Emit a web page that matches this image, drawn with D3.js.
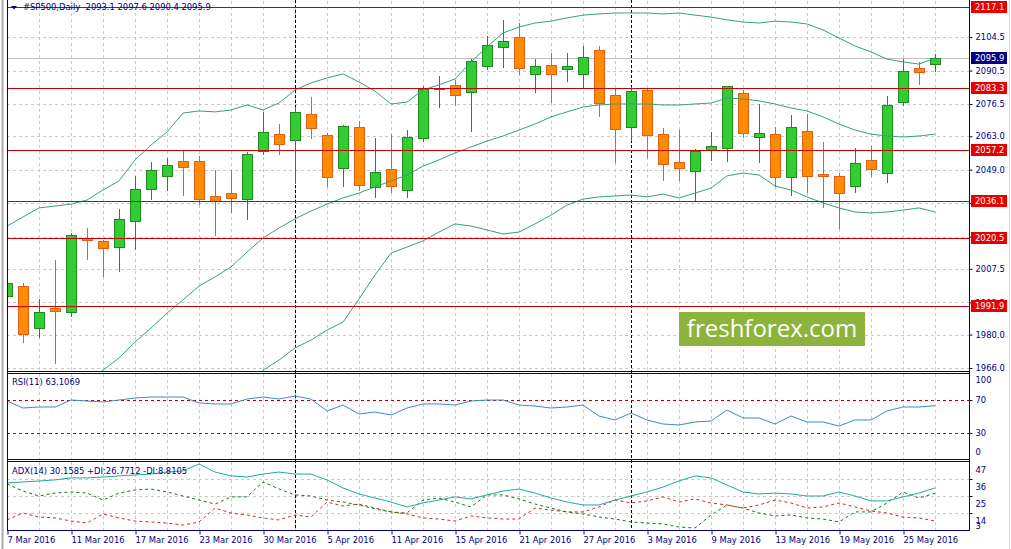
<!DOCTYPE html>
<html><head><meta charset="utf-8">
<script src="https://cdn.jsdelivr.net/npm/d3@7"></script>
<style>
body{margin:0;background:#fff;}
svg{display:block;}
text{font-family:"DejaVu Sans",sans-serif;}
</style>
</head><body>
<svg id="c" width="1011" height="549"></svg>
<script>
// ---------------- DATA ----------------
const dates = ["7 Mar 2016","8 Mar 2016","9 Mar 2016","10 Mar 2016","11 Mar 2016","14 Mar 2016","15 Mar 2016","16 Mar 2016","17 Mar 2016","18 Mar 2016",
"21 Mar 2016","22 Mar 2016","23 Mar 2016","24 Mar 2016","28 Mar 2016","29 Mar 2016","30 Mar 2016","31 Mar 2016","1 Apr 2016","4 Apr 2016",
"5 Apr 2016","6 Apr 2016","7 Apr 2016","8 Apr 2016","11 Apr 2016","12 Apr 2016","13 Apr 2016","14 Apr 2016","15 Apr 2016","18 Apr 2016",
"19 Apr 2016","20 Apr 2016","21 Apr 2016","22 Apr 2016","25 Apr 2016","26 Apr 2016","27 Apr 2016","28 Apr 2016","29 Apr 2016","2 May 2016",
"3 May 2016","4 May 2016","5 May 2016","6 May 2016","9 May 2016","10 May 2016","11 May 2016","12 May 2016","13 May 2016","16 May 2016",
"17 May 2016","18 May 2016","19 May 2016","20 May 2016","23 May 2016","24 May 2016","25 May 2016","26 May 2016","27 May 2016"];

const open = [1996.1,2000.3,1982.7,1991.1,1989.4,2020.4,2019.1,2016.6,2027.5,2040.9,
2046.4,2052.6,2052.6,2038.0,2039.2,2036.7,2056.8,2063.9,2061.4,2072.3,
2063.5,2049.7,2066.9,2041.8,2049.3,2040.5,2062.3,2082.6,2084.5,2081.5,
2092.4,2100.4,2104.5,2089.1,2092.8,2091.1,2089.1,2099.1,2080.3,2066.9,
2082.4,2063.9,2052.2,2048.4,2057.2,2058.1,2081.1,2062.7,2063.9,2045.9,
2065.2,2047.2,2046.4,2042.2,2053.1,2047.6,2077.3,2091.6,2093.1];
const high = [2006.2,2001.6,1994.9,2011.2,2022.5,2024.6,2019.6,2032.5,2046.4,2052.2,
2053.9,2056.8,2054.7,2048.9,2048.9,2056.4,2073.1,2068.1,2075.2,2079.4,
2064.4,2067.7,2069.4,2062.3,2063.9,2065.6,2084.0,2088.2,2086.5,2095.3,
2105.0,2111.7,2110.4,2095.3,2097.8,2097.8,2100.8,2100.8,2083.2,2083.6,
2083.2,2066.5,2065.6,2057.7,2064.8,2084.0,2082.4,2076.5,2066.9,2071.9,
2072.3,2060.6,2047.6,2058.1,2058.9,2079.8,2095.3,2094.1,2097.6];
const low = [1986.1,1976.9,1979.0,1968.1,1987.8,2011.6,2004.5,2006.6,2015.8,2036.7,
2040.5,2038.4,2034.6,2021.7,2031.3,2028.4,2055.6,2055.6,2043.4,2062.3,
2042.2,2042.2,2040.5,2037.6,2039.7,2037.6,2061.0,2075.2,2076.1,2065.2,
2091.1,2092.0,2089.1,2081.5,2077.3,2086.1,2083.2,2071.5,2052.2,2061.4,
2054.3,2044.7,2044.7,2035.9,2053.1,2052.6,2062.7,2052.2,2042.2,2038.4,
2039.7,2033.4,2024.6,2039.7,2046.4,2043.8,2076.1,2084.9,2090.4];
const close = [2001.6,1980.2,1989.4,1989.8,2021.7,2019.6,2016.2,2028.4,2040.9,2048.9,
2051.0,2050.1,2036.7,2035.9,2037.1,2055.6,2064.8,2059.8,2073.1,2066.5,
2045.9,2067.3,2042.6,2048.0,2042.2,2062.7,2082.8,2083.0,2080.3,2094.5,
2101.2,2102.9,2091.6,2092.4,2089.1,2092.4,2096.2,2076.9,2066.0,2081.9,
2063.5,2051.4,2049.7,2056.8,2058.9,2084.0,2064.4,2064.4,2045.9,2066.9,
2046.4,2046.4,2039.2,2051.8,2049.3,2076.1,2090.3,2089.9,2095.9];

const bbUpper = [2025.4,2029.2,2033.0,2033.8,2034.6,2036.3,2040.5,2044.3,2053.1,2059.3,
2064.8,2072.7,2073.6,2073.2,2074.0,2076.1,2074.0,2076.9,2082.4,2085.3,
2087.4,2089.1,2085.7,2081.9,2076.5,2077.3,2082.4,2084.5,2087.0,2094.1,
2100.4,2106.2,2108.7,2110.4,2111.2,2112.5,2113.7,2114.2,2114.6,2114.6,
2114.6,2114.2,2114.6,2113.7,2112.9,2111.7,2110.8,2110.4,2111.2,2110.8,
2110.0,2107.5,2104.1,2100.8,2098.3,2095.3,2094.1,2093.2,2095.8];
const bbMiddle = [null,null,null,null,null,1959.3,1965.1,1970.2,1976.9,1982.7,
1989.0,1994.5,2000.3,2004.1,2008.3,2014.5,2020.4,2024.6,2028.4,2031.7,
2034.6,2037.2,2039.2,2041.8,2044.3,2046.8,2050.5,2053.1,2056.0,2058.5,
2061.0,2063.1,2065.6,2068.1,2071.1,2073.2,2075.2,2076.1,2076.5,2076.5,
2076.5,2076.1,2076.1,2076.5,2076.9,2079.0,2078.6,2077.8,2076.5,2074.8,
2073.6,2071.1,2068.1,2065.6,2063.9,2063.1,2062.7,2063.1,2063.9];
const bbLower = [null,null,null,null,null,null,null,null,null,null,
null,null,null,null,null,1953.0,1965.1,1969.3,1974.4,1977.7,
1981.9,1985.2,1994.9,2004.9,2014.1,2016.6,2019.2,2022.9,2026.3,2025.4,
2023.8,2022.1,2022.9,2026.3,2030.0,2034.2,2036.7,2037.6,2038.0,2038.4,
2037.6,2038.8,2037.2,2039.2,2041.3,2046.4,2047.6,2046.8,2042.2,2040.5,
2037.6,2035.1,2033.0,2031.3,2030.9,2031.3,2032.1,2033.0,2031.3];

const rsi = [68.8,60.3,61.5,61.5,70.0,68.8,67.6,70.0,72.4,73.6,
73.6,73.6,66.4,65.2,65.2,71.2,73.6,71.2,74.8,71.2,
56.7,63.9,53.0,55.5,51.8,60.3,65.2,65.2,63.9,68.8,
70.0,70.0,63.9,62.7,60.3,61.5,63.9,50.6,45.8,54.2,
45.8,40.9,39.7,43.3,44.5,57.9,48.2,48.2,40.9,50.6,
43.3,43.3,38.5,45.8,45.8,56.7,61.5,61.5,63.1];
const adx = [33.4,34.1,34.7,35.4,36.7,36.7,37.3,38.0,38.6,39.2,
40.5,41.2,45.7,40.5,38.0,37.3,39.2,40.5,39.2,39.2,
35.4,30.2,26.3,23.7,21.1,17.9,20.5,22.4,24.4,23.1,
25.7,28.2,29.5,26.9,23.7,21.1,19.2,19.2,22.4,25.0,
27.6,30.8,34.7,38.0,36.7,32.1,27.6,26.3,26.9,26.3,
25.0,25.0,27.6,25.0,21.8,21.8,24.4,26.9,30.2];
const plusDI = [32.8,28.2,25.0,26.9,27.6,26.9,22.4,26.9,28.9,29.5,
27.6,25.0,22.4,19.8,24.4,24.4,34.1,29.5,25.7,25.0,
22.4,21.1,19.2,16.6,14.7,14.0,22.4,23.7,21.1,17.9,
25.7,25.7,23.1,19.8,17.2,14.7,13.4,11.4,10.1,8.2,
7.5,6.9,4.9,4.3,12.7,19.2,17.2,14.0,12.1,12.7,
10.8,10.1,8.2,14.7,14.7,20.5,27.6,23.7,26.8];
const minusDI = [9.5,14.0,11.4,10.8,8.8,7.5,13.4,10.8,8.8,8.2,
7.5,6.2,8.2,17.2,14.0,12.7,10.8,9.5,12.7,11.4,
21.1,18.5,19.8,17.2,14.7,13.4,10.8,10.1,8.8,12.1,
10.8,10.1,10.1,17.2,15.9,14.7,14.7,17.9,22.4,20.5,
21.8,24.4,21.1,23.1,20.5,19.2,17.2,19.2,22.4,20.5,
17.2,17.9,20.5,17.9,15.3,14.0,11.4,10.8,8.8];

const priceTicks = [2104.5,2090.5,2076.5,2063.0,2049.0,2035.0,2021.0,2007.5,1993.5,1980.0,1966.0];
const levels = [2117.1,2083.3,2057.2,2036.1,2020.5,1991.9];
const rsiTicks = [100,70,30,0];
const rsiLevels = [70,30];
const adxTicks = [47,36,25,14,3];
const adxGrid = [36,25,14];
const titleText = "#SP500,Daily  2093.1 2097.6 2090.4 2095.9";
const rsiTitle = "RSI(11) 63.1069";
const adxTitle = "ADX(14) 30.1585 +DI:26.7712 -DI:8.8105";
const watermark = "freshforex.com";

// ---------------- LAYOUT ----------------
const L = 7, R = 969;
const P = {main:[0,371], rsi:[373,459], adx:[461,530]};
const navy = "#000080";
const n = close.length;
const idx = d3.range(n);

const x = d3.scaleLinear().domain([0, n-1]).range([7, 935]);
const yP = d3.scaleLinear().domain([1966.0, 2117.1]).range([368, 7]);
const yR = d3.scaleLinear().domain([0, 100]).range([457.75, 375.25]);
const yA = d3.scaleLinear().domain([3, 47]).range([530, 462]);

const svg = d3.select("#c");
const defs = svg.append("defs");
Object.entries(P).forEach(([k,[a,b]]) => {
  defs.append("clipPath").attr("id","clip-"+k).append("rect")
    .attr("x",L+1).attr("y",a).attr("width",R-L-1).attr("height",b-a);
});
const px = v => Math.round(v) + 0.5;

// window borders
svg.append("line").attr("x1",2.5).attr("x2",2.5).attr("y1",0).attr("y2",549).attr("stroke","#a9a9a9").attr("stroke-width",2);
svg.append("line").attr("x1",1009.5).attr("x2",1009.5).attr("y1",0).attr("y2",549).attr("stroke","#d6d6d6").attr("stroke-width",1);

// ---------------- GRID ----------------
const grid = svg.append("g").attr("stroke","#c8c8c8").attr("stroke-dasharray","3,3")
  .attr("shape-rendering","crispEdges").attr("fill","none");
const gridIdx = idx.filter(i => i > 0 && i % 2 === 0);
Object.values(P).forEach(([a,b]) => {
  grid.append("g").selectAll("line").data(gridIdx).join("line")
    .attr("x1",d=>px(x(d))).attr("x2",d=>px(x(d))).attr("y1",a+1).attr("y2",b);
});
grid.append("g").selectAll("line").data(priceTicks).join("line")
  .attr("x1",L).attr("x2",R).attr("y1",d=>px(yP(d))).attr("y2",d=>px(yP(d)));
grid.append("g").selectAll("line").data(adxGrid).join("line")
  .attr("x1",L).attr("x2",R).attr("y1",d=>px(yA(d))).attr("y2",d=>px(yA(d)));

// month separators
const sepIdx = idx.filter(i => i > 0 && dates[i].split(" ")[1] !== dates[i-1].split(" ")[1]);
svg.append("g").selectAll("line").data(sepIdx).join("line")
  .attr("x1",d=>px(x(d))).attr("x2",d=>px(x(d))).attr("y1",0).attr("y2",530)
  .attr("stroke","#000030").attr("stroke-dasharray","3,2").attr("shape-rendering","crispEdges");

// ---------------- MAIN PANEL ----------------
const gMain = svg.append("g").attr("clip-path","url(#clip-main)");
// bid line
gMain.append("line").attr("x1",L).attr("x2",R)
  .attr("y1",px(yP(close[n-1]))).attr("y2",px(yP(close[n-1])))
  .attr("stroke","#c0c0c0").attr("shape-rendering","crispEdges");

// candles
const candles = gMain.append("g").attr("shape-rendering","crispEdges");
const bull = i => close[i] >= open[i];
candles.selectAll("line").data(idx).join("line")
  .attr("x1",i=>px(x(i))).attr("x2",i=>px(x(i)))
  .attr("y1",i=>Math.round(yP(high[i]))).attr("y2",i=>Math.round(yP(low[i]))+1)
  .attr("stroke",i=>bull(i)?"#1f8a1f":"#e0621a");
candles.selectAll("rect").data(idx).join("rect")
  .attr("x",i=>Math.round(x(i))-4.5).attr("width",10)
  .attr("y",i=>Math.round(yP(Math.max(open[i],close[i])))+0.5)
  .attr("height",i=>Math.max(1, Math.round(yP(Math.min(open[i],close[i]))) - Math.round(yP(Math.max(open[i],close[i])))))
  .attr("fill",i=>bull(i)?"#32cd32":"#ff8c00")
  .attr("stroke",i=>bull(i)?"#1f8a1f":"#e0621a");

// bollinger bands
const bbColor = "#3a9f7a";
[bbUpper,bbMiddle,bbLower].forEach(arr => {
  const line = d3.line().defined(i=>arr[i]!=null).x(i=>x(i)).y(i=>yP(arr[i]));
  gMain.append("path").attr("d",line(idx)).attr("fill","none").attr("stroke",bbColor).attr("stroke-width",1);
});

// red levels
gMain.append("g").selectAll("line").data(levels).join("line")
  .attr("x1",L).attr("x2",R).attr("y1",d=>px(yP(d))).attr("y2",d=>px(yP(d)))
  .attr("stroke","#cc0000").attr("shape-rendering","crispEdges");

// watermark
const wm = svg.append("g");
wm.append("rect").attr("x",679).attr("y",312).attr("width",186).attr("height",34).attr("fill","#8cb43c");
wm.append("text").attr("x",772).attr("y",337).attr("text-anchor","middle")
  .style("font-family","'Open Sans',sans-serif").style("font-size","24px").attr("fill","#ffffff").text(watermark);

// title
svg.append("path").attr("d","M11,6 L17,6 L14,9.5 Z").attr("fill",navy);
svg.append("text").attr("x",23).attr("y",7).attr("dy","0.35em").attr("fill",navy)
  .style("font-size","8.4px").style("white-space","pre").text(titleText);

// ---------------- RSI PANEL ----------------
const gR = svg.append("g").attr("clip-path","url(#clip-rsi)");
gR.selectAll("line").data(rsiLevels).join("line")
  .attr("x1",L).attr("x2",R).attr("y1",d=>px(yR(d))).attr("y2",d=>px(yR(d)))
  .attr("stroke","#c00000").attr("stroke-dasharray","3,3").attr("shape-rendering","crispEdges");
gR.append("path").attr("d",d3.line().x(i=>x(i)).y(i=>yR(rsi[i]))(idx))
  .attr("fill","none").attr("stroke","#3a8bd0").attr("stroke-width",1);
svg.append("text").attr("x",12).attr("y",382).attr("dy","0.35em").attr("fill",navy)
  .style("font-size","8.4px").text(rsiTitle);

// ---------------- ADX PANEL ----------------
const gA = svg.append("g").attr("clip-path","url(#clip-adx)");
gA.append("path").attr("d",d3.line().x(i=>x(i)).y(i=>yA(minusDI[i]))(idx))
  .attr("fill","none").attr("stroke","#cc2a2a").attr("stroke-dasharray","3,3");
gA.append("path").attr("d",d3.line().x(i=>x(i)).y(i=>yA(plusDI[i]))(idx))
  .attr("fill","none").attr("stroke","#157a15").attr("stroke-dasharray","3,3");
gA.append("path").attr("d",d3.line().x(i=>x(i)).y(i=>yA(adx[i]))(idx))
  .attr("fill","none").attr("stroke","#22aaa2").attr("stroke-width",1);
svg.append("text").attr("x",12).attr("y",471).attr("dy","0.35em").attr("fill",navy)
  .style("font-size","8.4px").text(adxTitle);

// ---------------- FRAMES ----------------
const frame = svg.append("g").attr("stroke",navy).attr("shape-rendering","crispEdges");
frame.append("line").attr("x1",L+0.5).attr("x2",L+0.5).attr("y1",0).attr("y2",531);
frame.append("line").attr("x1",R+0.5).attr("x2",R+0.5).attr("y1",0).attr("y2",531);
[371,373,459,461,530].forEach(y => frame.append("line").attr("x1",L).attr("x2",R+1).attr("y1",y+0.5).attr("y2",y+0.5));

// ---------------- AXES ----------------
// price axis
const axP = svg.append("g").attr("transform",`translate(${R+0.5},0)`)
  .call(d3.axisRight(yP).tickValues(priceTicks).tickFormat(d3.format(".1f")).tickSize(3).tickPadding(3));
axP.select(".domain").remove();
axP.selectAll("line").attr("stroke",navy);
axP.selectAll("text").attr("fill",navy).style("font-size","8.4px").style("font-family","'DejaVu Sans',sans-serif");

// red level labels
const lv = svg.append("g").selectAll("g").data(levels).join("g")
  .attr("transform",d=>`translate(${R+1},${Math.round(yP(d))})`);
lv.append("rect").attr("x",1).attr("y",-6).attr("width",36).attr("height",12).attr("fill","#e60000");
lv.append("text").attr("x",5).attr("dy","0.35em").attr("fill","#fff").style("font-size","8.4px").text(d=>d.toFixed(1));

// bid label
const bid = svg.append("g").attr("transform",`translate(${R+1},${Math.round(yP(close[n-1]))})`);
bid.append("rect").attr("x",1).attr("y",-6).attr("width",36).attr("height",12).attr("fill",navy);
bid.append("text").attr("x",5).attr("dy","0.35em").attr("fill","#fff").style("font-size","8.4px").text(close[n-1].toFixed(1));

// RSI axis
const axR = svg.append("g").attr("transform",`translate(${R+0.5},0)`);
axR.selectAll("line").data(rsiLevels).join("line").attr("x1",0).attr("x2",3)
  .attr("y1",d=>px(yR(d))).attr("y2",d=>px(yR(d))).attr("stroke",navy);
axR.selectAll("text").data(rsiTicks).join("text").attr("x",6)
  .attr("y",d=>Math.min(452, Math.max(380, yR(d)))).attr("dy","0.35em")
  .attr("fill",navy).style("font-size","8.4px").text(d=>d);

// ADX axis
const axA = svg.append("g").attr("transform",`translate(${R+0.5},0)`);
axA.selectAll("line").data(adxGrid).join("line").attr("x1",0).attr("x2",3)
  .attr("y1",d=>px(yA(d))).attr("y2",d=>px(yA(d))).attr("stroke",navy);
axA.selectAll("text").data(adxTicks).join("text").attr("x",6)
  .attr("y",d=>Math.min(526, Math.max(468, yA(d)+8))).attr("dy","0.35em")
  .attr("fill",navy).style("font-size","8.4px").text(d=>d);

// time axis
const tIdx = idx.filter(i => i % 4 === 0);
const axT = svg.append("g").attr("transform","translate(0,530.5)")
  .call(d3.axisBottom(x).tickValues(tIdx).tickFormat(i=>dates[i]).tickSize(4).tickPadding(3));
axT.select(".domain").remove();
axT.selectAll("line").attr("stroke",navy).attr("transform","translate(0.5,0)");
axT.selectAll("text").attr("text-anchor","start").attr("fill",navy)
  .style("font-size","8.4px").style("font-family","'DejaVu Sans',sans-serif");
</script>
</body></html>
